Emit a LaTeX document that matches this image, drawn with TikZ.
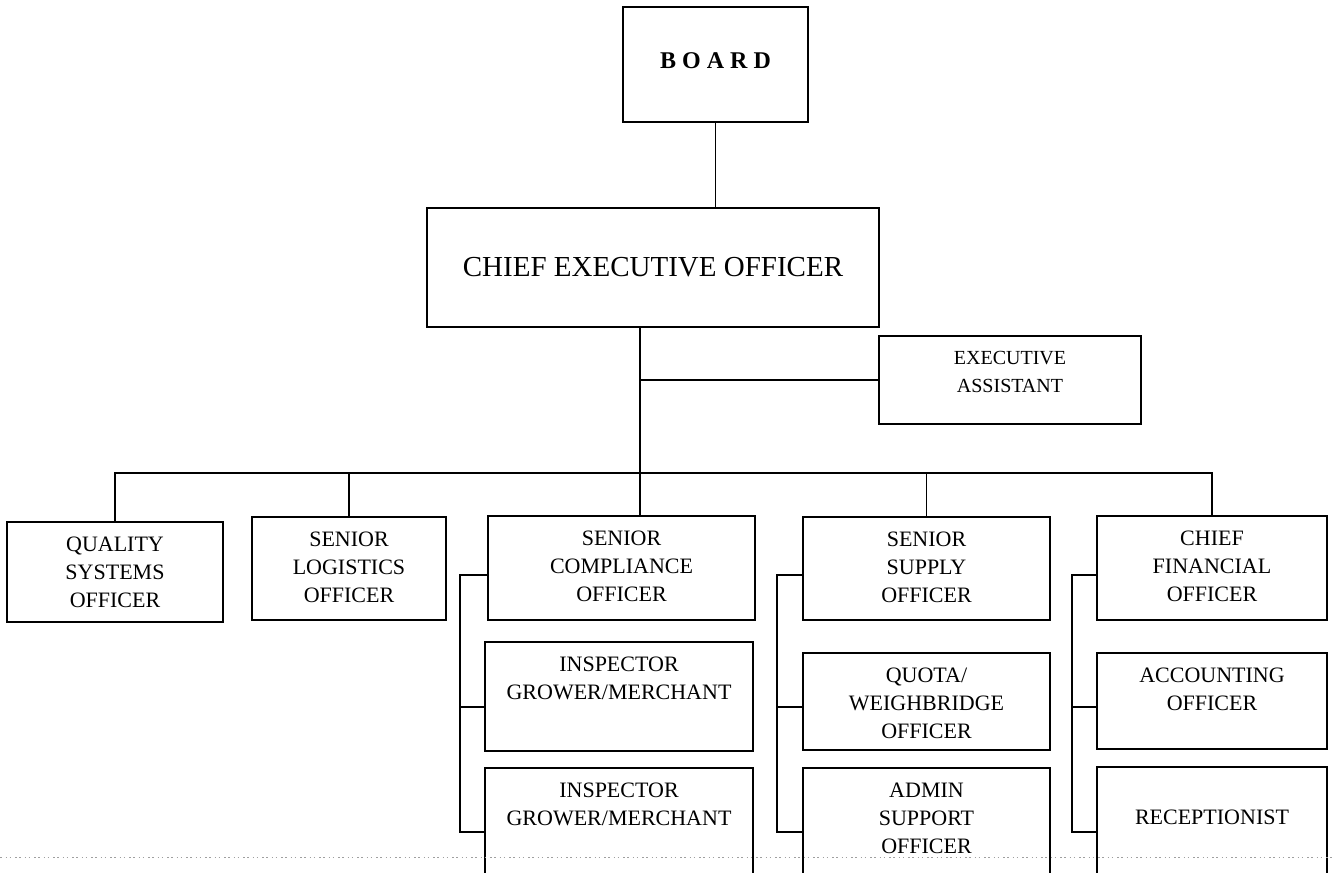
\documentclass[tikz,border=0pt]{standalone}
\usepackage{fontspec}
\setmainfont{Liberation Serif}
\usetikzlibrary{calc,positioning}

\begin{document}
\begin{tikzpicture}[x=1pt,y=-1pt,
  post/.style 2 args={draw,line width=1.7pt,minimum width=#1,minimum height=#2,inner sep=0pt},
  title/.style={font=\fontsize{22}{28}\selectfont,align=center,anchor=north,inner sep=0pt,yshift=-15.5pt},
  link/.style={line width=1.5pt}]

\useasboundingbox (0,0) rectangle (1332,872);
\clip (0,0) rectangle (1332,872);

\node[post={185pt}{115pt},font=\bfseries\fontsize{24}{28}\selectfont,text depth=8pt] (board) at (715.5,64.5) {B O A R D};
\node[post={452pt}{119pt},font=\fontsize{29}{34}\selectfont] (ceo) at (653,267.5) {CHIEF EXECUTIVE OFFICER};
\node[post={262pt}{88pt}] (ea) at (1010,380) {};

\node[post={216pt}{100pt}] (qso) at (115,572) {};
\node[post={194pt}{103pt}] (slo) at (349,568.5) {};
\node[post={267pt}{104pt}] (sco) at (621.5,568) {};
\node[post={247pt}{103pt}] (ssu) at (926.5,568.5) {};
\node[post={230pt}{104pt}] (cfo) at (1212,568) {};

\node[post={268pt}{109pt}] (ins1) at (619,696.5) {};
\node[post={268pt}{128pt}] (ins2) at (619,832) {};
\node[post={247pt}{97pt}] (quota) at (926.5,701.5) {};
\node[post={247pt}{128pt}] (admin) at (926.5,832) {};
\node[post={230pt}{96pt}] (acc) at (1212,701) {};
\node[post={230pt}{130pt}] (rec) at (1212,832) {};

\node[title,font=\fontsize{20}{28}\selectfont] (eat) at (ea.north) {EXECUTIVE\\ASSISTANT};
\node[title] (qsot) at (qso.north) {QUALITY\\SYSTEMS\\OFFICER};
\node[title] (slot) at (slo.north) {SENIOR\\LOGISTICS\\OFFICER};
\node[title] (scot) at (sco.north) {SENIOR\\COMPLIANCE\\OFFICER};
\node[title] (ssut) at (ssu.north) {SENIOR\\SUPPLY\\OFFICER};
\node[title] (cfot) at (cfo.north) {CHIEF\\FINANCIAL\\OFFICER};
\node[title] (ins1t) at (ins1.north) {INSPECTOR\\GROWER/MERCHANT};
\node[title] (ins2t) at (ins2.north) {INSPECTOR\\GROWER/MERCHANT};
\node[title] (quotat) at (quota.north) {QUOTA/\\WEIGHBRIDGE\\OFFICER};
\node[title] (admint) at (admin.north) {ADMIN\\SUPPORT\\OFFICER};
\node[title] (acct) at (acc.north) {ACCOUNTING\\OFFICER};
\node[title,yshift=-28pt] (rect) at (rec.north) {RECEPTIONIST};

\coordinate (bus) at (640,473);
\draw[link] (board.south) -- (board.south |- ceo.north);
\draw[link] (ceo.south -| bus) -- (sco.north -| bus);
\draw[link] (ea.west) -- (ea.west -| bus);
\draw[link] (qso.north) |- (bus) -| (cfo.north);
\draw[link] (slo.north) -- (slo.north |- bus);
\draw[link] (ssu.north) -- (ssu.north |- bus);

\draw[link] ([yshift=-7pt]sco.west) -| ([xshift=-24pt]ins2.west) -- (ins2.west);
\draw[link] ([yshift=-10.5pt]ins1.west) -- ++(-24,0);
\draw[link] ([yshift=-6.5pt]ssu.west) -| ([xshift=-25pt]admin.west) -- (admin.west);
\draw[link] ([yshift=-5.5pt]quota.west) -- ++(-25,0);
\draw[link] ([yshift=-7pt]cfo.west) -| ([xshift=-24pt]rec.west) -- (rec.west);
\draw[link] ([yshift=-6pt]acc.west) -- ++(-24,0);

\draw[gray!75,line width=1pt,dash pattern=on 1.5pt off 4pt on 1.5pt off 2.5pt] (0,857) -- (1332,857);
\end{tikzpicture}
\end{document}
